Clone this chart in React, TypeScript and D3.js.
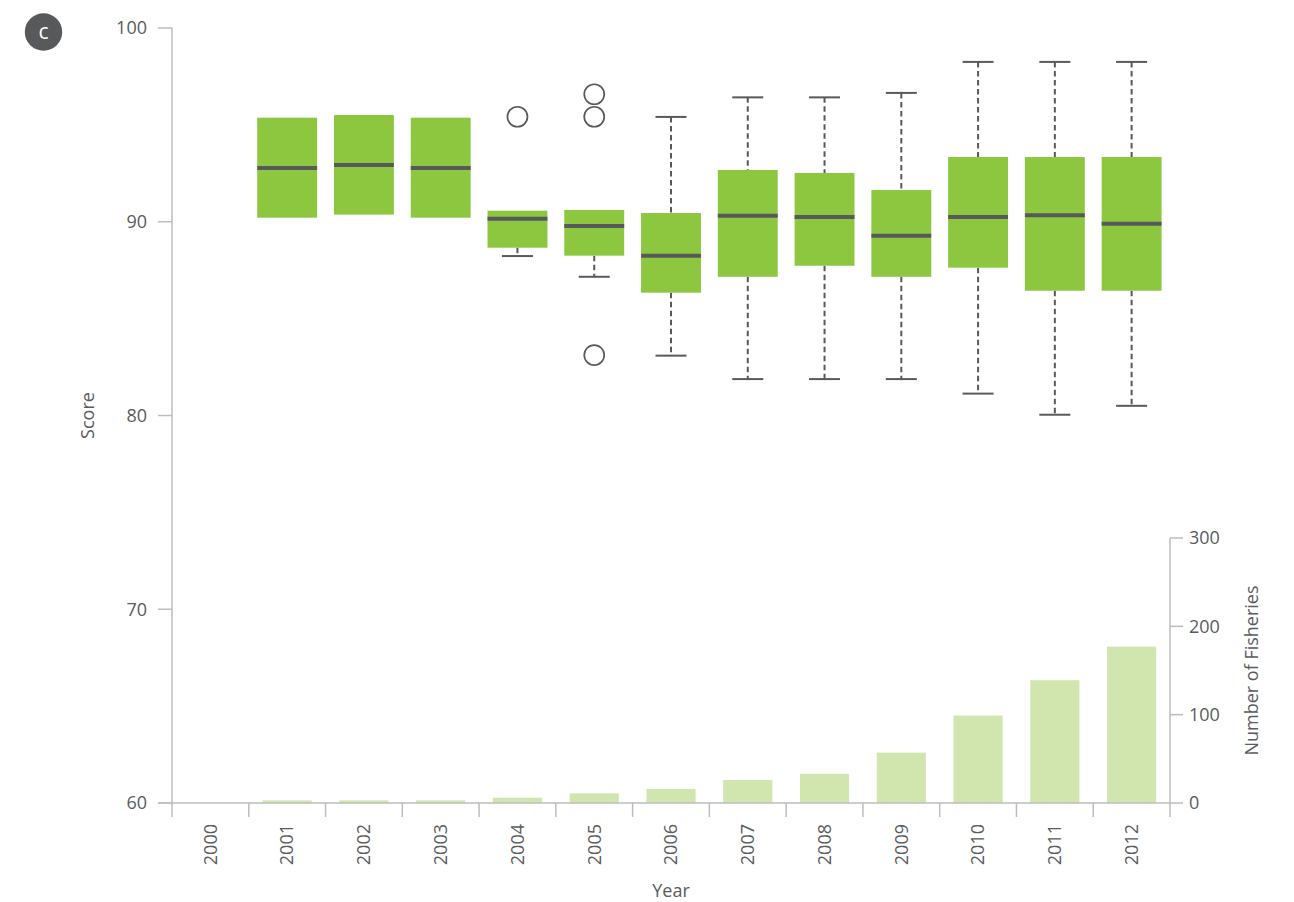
import React from "react";
import * as d3 from "d3";

const years = ["2000","2001","2002","2003","2004","2005","2006","2007","2008","2009","2010","2011","2012"];
// box stats per year; null for no data
const lowWhisker = [null, 90.21, 90.37, 90.21, 88.23, 87.16, 83.09, 81.88, 81.88, 81.88, 81.13, 80.04, 80.5];
const q1 = [null, 90.21, 90.37, 90.21, 88.66, 88.25, 86.34, 87.16, 87.73, 87.16, 87.63, 86.44, 86.44];
const medians = [null, 92.77, 92.93, 92.77, 90.16, 89.78, 88.25, 90.31, 90.25, 89.28, 90.25, 90.33, 89.9];
const q3 = [null, 95.37, 95.51, 95.37, 90.57, 90.61, 90.45, 92.67, 92.52, 91.64, 93.34, 93.34, 93.34];
const highWhisker = [null, 95.37, 95.51, 95.37, 90.57, 90.61, 95.41, 96.42, 96.42, 96.65, 98.25, 98.25, 98.25];
const outlierYears = ["2004", "2005", "2005", "2005"];
const outlierValues = [95.42, 96.58, 95.42, 83.12];
const fisheryCounts = [0, 3, 3, 3, 6, 11, 16, 26, 33, 57, 99, 139, 177];
const scoreTicks = [60, 70, 80, 90, 100];
const countTicks = [0, 100, 200, 300];

const FONT = "'Open Sans', sans-serif";
const TXT = "#5a5b5d";
const AXIS = "#bdbdbd";
const BOX = "#8dc63f";
const BAR = "#d0e6ae";
const LINE = "#58595b";
const FS = 18;

export default function App() {
  const left = 172, right = 1170, top = 28, bottom = 803;
  const x = d3.scaleBand<string>().domain(years).range([left, right]).padding(0);
  const y = d3.scaleLinear().domain([60, 100]).range([bottom, top]);
  const y2 = d3.scaleLinear().domain([0, 300]).range([bottom, 538]);
  const bw = x.bandwidth();
  const boxW = bw * 0.78;
  const barW = bw * 0.64;
  const capW = 31;

  return (
    <svg width={1294} height={902} style={{ position: "absolute", left: 0, top: 0 }} fontFamily={FONT}>
      {/* badge */}
      <circle cx={43.5} cy={32} r={18.7} fill="#58595b" />
      <text x={43.5} y={39} textAnchor="middle" fill="#fff" fontSize={21} fontWeight={500}>c</text>

      {/* bars */}
      {years.map((yr, i) => fisheryCounts[i] > 0 && (
        <rect key={"b" + yr} x={x(yr)! + (bw - barW) / 2} y={y2(fisheryCounts[i])} width={barW}
          height={bottom - y2(fisheryCounts[i])} fill={BAR} />
      ))}

      {/* boxes */}
      {years.map((yr, i) => {
        if (medians[i] == null) return null;
        const cx = x(yr)! + bw / 2;
        const lo = lowWhisker[i] as number, hi = highWhisker[i] as number;
        const a = q1[i] as number, b = q3[i] as number, m = medians[i] as number;
        return (
          <g key={"box" + yr}>
            {hi > b && <line x1={cx} x2={cx} y1={y(hi)} y2={y(b)} stroke={LINE} strokeWidth={2} strokeDasharray="5.5,3.5" />}
            {hi > b && <line x1={cx - capW / 2} x2={cx + capW / 2} y1={y(hi)} y2={y(hi)} stroke={LINE} strokeWidth={2} />}
            {lo < a && <line x1={cx} x2={cx} y1={y(a)} y2={y(lo)} stroke={LINE} strokeWidth={2} strokeDasharray="5.5,3.5" />}
            {lo < a && <line x1={cx - capW / 2} x2={cx + capW / 2} y1={y(lo)} y2={y(lo)} stroke={LINE} strokeWidth={2} />}
            <rect x={cx - boxW / 2} y={y(b)} width={boxW} height={y(a) - y(b)} fill={BOX} />
            <line x1={cx - boxW / 2} x2={cx + boxW / 2} y1={y(m)} y2={y(m)} stroke={LINE} strokeWidth={4} />
          </g>
        );
      })}

      {/* outliers */}
      {outlierYears.map((yr, i) => (
        <circle key={"o" + i} cx={x(yr)! + bw / 2} cy={y(outlierValues[i])} r={10} fill="none" stroke={LINE} strokeWidth={1.7} />
      ))}

      {/* left axis */}
      <line x1={left} x2={left} y1={top} y2={bottom + 14} stroke={AXIS} strokeWidth={1.5} />
      {scoreTicks.map(t => (
        <g key={"lt" + t}>
          <line x1={left - 14} x2={left} y1={y(t)} y2={y(t)} stroke={AXIS} strokeWidth={1.5} />
          <text x={left - 25} y={y(t)} dy="0.35em" textAnchor="end" fontSize={FS} fill={TXT}>{t}</text>
        </g>
      ))}
      <text transform={`translate(94,${(top + bottom) / 2}) rotate(-90)`} textAnchor="middle" fontSize={FS} fill={TXT}>Score</text>

      {/* x axis */}
      <line x1={left - 14} x2={right} y1={bottom} y2={bottom} stroke={AXIS} strokeWidth={1.5} />
      {years.map((yr, i) => (
        <g key={"xt" + yr}>
          {i > 0 && <line x1={x(yr)!} x2={x(yr)!} y1={bottom} y2={bottom + 14} stroke={AXIS} strokeWidth={1.5} />}
          <text transform={`translate(${x(yr)! + bw / 2},${bottom + 21}) rotate(-90)`} dy="0.35em" textAnchor="end" fontSize={FS} fill={TXT}>{yr}</text>
        </g>
      ))}
      <text x={(left + right) / 2} y={897} textAnchor="middle" fontSize={FS} fill={TXT}>Year</text>

      {/* right axis */}
      <line x1={right} x2={right} y1={y2(300)} y2={bottom + 14} stroke={AXIS} strokeWidth={1.5} />
      {countTicks.map(t => (
        <g key={"rt" + t}>
          <line x1={right} x2={right + 13} y1={y2(t)} y2={y2(t)} stroke={AXIS} strokeWidth={1.5} />
          <text x={right + 19} y={y2(t)} dy="0.35em" textAnchor="start" fontSize={FS} fill={TXT}>{t}</text>
        </g>
      ))}
      <text transform={`translate(1258,${(y2(300) + bottom) / 2}) rotate(-90)`} textAnchor="middle" fontSize={FS} fill={TXT}>Number of Fisheries</text>
    </svg>
  );
}
